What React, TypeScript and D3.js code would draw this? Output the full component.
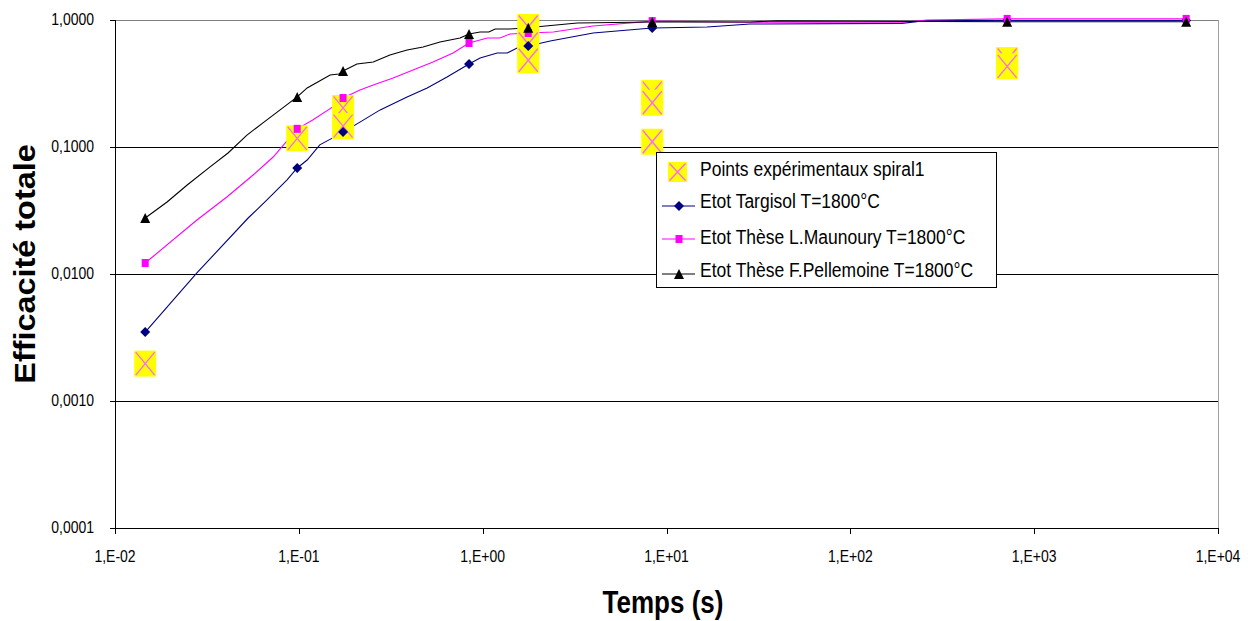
import React from "react";
import * as d3 from "d3";

// ---- Data ----
const xTickValues = [1e-2, 1e-1, 1e0, 1e1, 1e2, 1e3, 1e4];
const xTickLabels = ["1,E-02", "1,E-01", "1,E+00", "1,E+01", "1,E+02", "1,E+03", "1,E+04"];
const yTickValues = [1e-4, 1e-3, 1e-2, 1e-1, 1];
const yTickLabels = ["0,0001", "0,0010", "0,0100", "0,1000", "1,0000"];

// Experimental points (spiral1)
const expTimes = [0.0146, 0.098, 0.174, 0.174, 1.77, 1.77, 1.77, 8.36, 8.36, 8.36, 713, 713];
const expValues = [0.00197, 0.117, 0.203, 0.146, 0.881, 0.647, 0.482, 0.266, 0.223, 0.11, 0.484, 0.432];

// Etot Targisol T=1800°C
const targisolT = [0.0146, 0.0279, 0.053, 0.0671, 0.0863, 0.098, 0.111, 0.13, 0.153, 0.174, 0.215, 0.277, 0.388, 0.499, 0.64, 0.843, 0.968, 1.2, 1.36, 1.54, 1.77, 2.33, 3.99, 8.36, 16.6, 28.5, 190, 262, 713, 6714];
const targisolV = [0.00349, 0.0102, 0.0276, 0.0383, 0.055, 0.0684, 0.079, 0.104, 0.118, 0.131, 0.157, 0.196, 0.248, 0.292, 0.356, 0.451, 0.502, 0.55, 0.55, 0.602, 0.624, 0.684, 0.79, 0.865, 0.88, 0.93, 0.94, 0.99, 0.99, 0.99];

// Etot Thèse L.Maunoury T=1800°C
const maunouryT = [0.0146, 0.0279, 0.0406, 0.0564, 0.0725, 0.098, 0.119, 0.153, 0.174, 0.215, 0.254, 0.326, 0.418, 0.537, 0.69, 0.843, 1.06, 1.24, 1.41, 1.77, 2.42, 3.99, 8.36, 28.5, 190, 262, 713, 6714];
const maunouryV = [0.0122, 0.0266, 0.0404, 0.0602, 0.0834, 0.139, 0.163, 0.207, 0.243, 0.281, 0.308, 0.349, 0.404, 0.467, 0.55, 0.659, 0.721, 0.721, 0.776, 0.79, 0.805, 0.897, 0.98, 0.96, 0.96, 1.0, 1.02, 1.02];

// Etot Thèse F.Pellemoine T=1800°C
const pellemoineT = [0.0146, 0.0192, 0.0247, 0.0329, 0.0412, 0.0522, 0.0638, 0.0791, 0.098, 0.111, 0.148, 0.165, 0.174, 0.207, 0.254, 0.313, 0.388, 0.474, 0.586, 0.753, 0.843, 0.968, 1.08, 1.17, 1.41, 1.77, 2.2, 3.27, 8.36, 28.5, 40, 713, 6714];
const pellemoineV = [0.0276, 0.0369, 0.0502, 0.0697, 0.0897, 0.124, 0.155, 0.196, 0.248, 0.292, 0.369, 0.376, 0.397, 0.451, 0.467, 0.53, 0.581, 0.613, 0.671, 0.721, 0.776, 0.805, 0.805, 0.85, 0.85, 0.87, 0.897, 0.947, 0.964, 0.964, 0.985, 0.97, 0.97];

// Times at which the model series show markers
const markerTimes = [0.0146, 0.098, 0.174, 0.843, 1.77, 8.36, 713, 6714];

const legendLabels = [
  "Points expérimentaux spiral1",
  "Etot Targisol T=1800°C",
  "Etot Thèse L.Maunoury T=1800°C",
  "Etot Thèse F.Pellemoine T=1800°C",
];

const FONT = "'Liberation Sans', Arial, Helvetica, sans-serif";
const NAVY = "#000080";
const MAGENTA = "#FF00FF";
const YELLOW = "#FFFF00";
const PINK = "#FF66FF";

type Pt = [number, number];
const zip = (t: number[], v: number[]): Pt[] => t.map((d, i) => [d, v[i]]);
const markersOf = (t: number[], v: number[]): Pt[] =>
  markerTimes.map((m) => {
    const i = t.indexOf(m);
    return [m, v[i]] as Pt;
  });

const diamond = (cx: number, cy: number, r = 5) =>
  `M${cx},${cy - r}L${cx + r},${cy}L${cx},${cy + r}L${cx - r},${cy}Z`;
const triangle = (cx: number, cy: number, r = 5) =>
  `M${cx},${cy - r}L${cx + r},${cy + r}L${cx - r},${cy + r}Z`;

function ExpMarker({ cx, cy, w = 22, h = 26 }: { cx: number; cy: number; w?: number; h?: number }) {
  const ix = w / 2 - 1.5;
  const iy = h / 2 - 1.5;
  return (
    <g>
      <rect x={cx - w / 2} y={cy - h / 2} width={w} height={h} fill={YELLOW} />
      <line x1={cx - ix} y1={cy - iy} x2={cx + ix} y2={cy + iy} stroke={PINK} strokeWidth={1.3} />
      <line x1={cx + ix} y1={cy - iy} x2={cx - ix} y2={cy + iy} stroke={PINK} strokeWidth={1.3} />
    </g>
  );
}

export default function App() {
  const W = 1253;
  const H = 621;
  const left = 115, right = 1218, top = 20, bottom = 528;
  const x = d3.scaleLog().domain([1e-2, 1e4]).range([left, right]);
  const y = d3.scaleLog().domain([1e-4, 1]).range([bottom, top]);
  const line = d3
    .line<Pt>()
    .x((d) => x(d[0]))
    .y((d) => y(d[1]));

  const targ = zip(targisolT, targisolV);
  const maun = zip(maunouryT, maunouryV);
  const pell = zip(pellemoineT, pellemoineV);
  const exp = zip(expTimes, expValues);

  const tickTextStyle = { fontFamily: FONT, fontSize: 14, fill: "#000" };

  // legend geometry
  const lgX = 656, lgY = 152, lgW = 340, lgH = 135;
  const rowText = [176, 208, 244, 277];
  const rowSym = [172, 206, 239, 274];
  const symX0 = 662, symX1 = 695, symC = 679, textX = 700;

  return (
    <svg
      width={W}
      height={H}
      style={{ position: "absolute", left: 0, top: 0, display: "block", background: "#fff" }}
    >
      <rect x={0} y={0} width={W} height={H} fill="#fff" />
      {/* gridlines */}
      {yTickValues.map((v, i) => (
        <line
          key={"g" + i}
          x1={left}
          x2={right}
          y1={Math.round(y(v)) + 0.5}
          y2={Math.round(y(v)) + 0.5}
          stroke={v === 1 ? "#808080" : "#000"}
          strokeWidth={1}
        />
      ))}
      {/* right frame */}
      <line x1={right + 0.5} x2={right + 0.5} y1={top} y2={bottom} stroke="#a0a0a0" />
      {/* axes */}
      <line x1={left + 0.5} x2={left + 0.5} y1={top} y2={bottom + 1} stroke="#000" />
      <line x1={left} x2={right + 1} y1={bottom + 0.5} y2={bottom + 0.5} stroke="#000" />
      {/* y ticks and labels */}
      {yTickValues.map((v, i) => (
        <g key={"yt" + i}>
          <line x1={left - 5} x2={left} y1={Math.round(y(v)) + 0.5} y2={Math.round(y(v)) + 0.5} stroke="#000" />
          <text
            transform={`translate(94,${y(v) + 5}) scale(1,1.18)`}
            textAnchor="end"
            style={tickTextStyle}
          >
            {yTickLabels[i]}
          </text>
        </g>
      ))}
      {/* x ticks and labels */}
      {xTickValues.map((v, i) => (
        <g key={"xt" + i}>
          <line x1={Math.round(x(v)) + 0.5} x2={Math.round(x(v)) + 0.5} y1={bottom} y2={bottom + 6} stroke="#000" />
          <text
            transform={`translate(${x(v)},561.5) scale(1,1.2)`}
            textAnchor="middle"
            style={tickTextStyle}
          >
            {xTickLabels[i]}
          </text>
        </g>
      ))}

      {/* series lines */}
      <path d={line(targ) || ""} fill="none" stroke={NAVY} strokeWidth={1.1} />
      <path d={line(maun) || ""} fill="none" stroke={MAGENTA} strokeWidth={1.1} />
      <path d={line(pell) || ""} fill="none" stroke="#000" strokeWidth={1.1} />

      {/* experimental points */}
      {exp.map((d, i) => (
        <ExpMarker key={"e" + i} cx={x(d[0])} cy={y(d[1])} />
      ))}

      {/* model markers */}
      {markersOf(targisolT, targisolV).map((d, i) => (
        <path key={"d" + i} d={diamond(x(d[0]), y(d[1]))} fill={NAVY} />
      ))}
      {markersOf(maunouryT, maunouryV).map((d, i) => (
        <rect key={"s" + i} x={x(d[0]) - 3.5} y={y(d[1]) - 4} width={7} height={8} fill={MAGENTA} />
      ))}
      {markersOf(pellemoineT, pellemoineV).map((d, i) => (
        <path key={"t" + i} d={triangle(x(d[0]), y(d[1]))} fill="#000" />
      ))}

      {/* legend */}
      <rect x={lgX + 0.5} y={lgY + 0.5} width={lgW} height={lgH} fill="#fff" stroke="#000" strokeWidth={1} />
      <ExpMarker cx={677.5} cy={rowSym[0]} w={19} h={20} />
      <line x1={symX0} x2={symX1} y1={rowSym[1]} y2={rowSym[1]} stroke={NAVY} />
      <path d={diamond(symC, rowSym[1])} fill={NAVY} />
      <line x1={symX0} x2={symX1} y1={rowSym[2]} y2={rowSym[2]} stroke={MAGENTA} />
      <rect x={symC - 3.5} y={rowSym[2] - 4} width={7} height={8} fill={MAGENTA} />
      <line x1={symX0} x2={symX1} y1={rowSym[3]} y2={rowSym[3]} stroke="#000" />
      <path d={triangle(symC, rowSym[3])} fill="#000" />
      {legendLabels.map((l, i) => (
        <text
          key={"l" + i}
          transform={`translate(${textX},${rowText[i]}) scale(1,1.15)`}
          style={{ fontFamily: FONT, fontSize: 17.5, fill: "#000" }}
        >
          {l}
        </text>
      ))}

      {/* axis titles */}
      <text
        transform={`translate(35,264) rotate(-90) scale(1.08,1)`}
        textAnchor="middle"
        style={{ fontFamily: FONT, fontSize: 30, fontWeight: "bold", fill: "#000" }}
      >
        Efficacité totale
      </text>
      <text
        transform={`translate(663,613) scale(1,1.2)`}
        textAnchor="middle"
        style={{ fontFamily: FONT, fontSize: 26, fontWeight: "bold", fill: "#000" }}
      >
        Temps (s)
      </text>
    </svg>
  );
}
